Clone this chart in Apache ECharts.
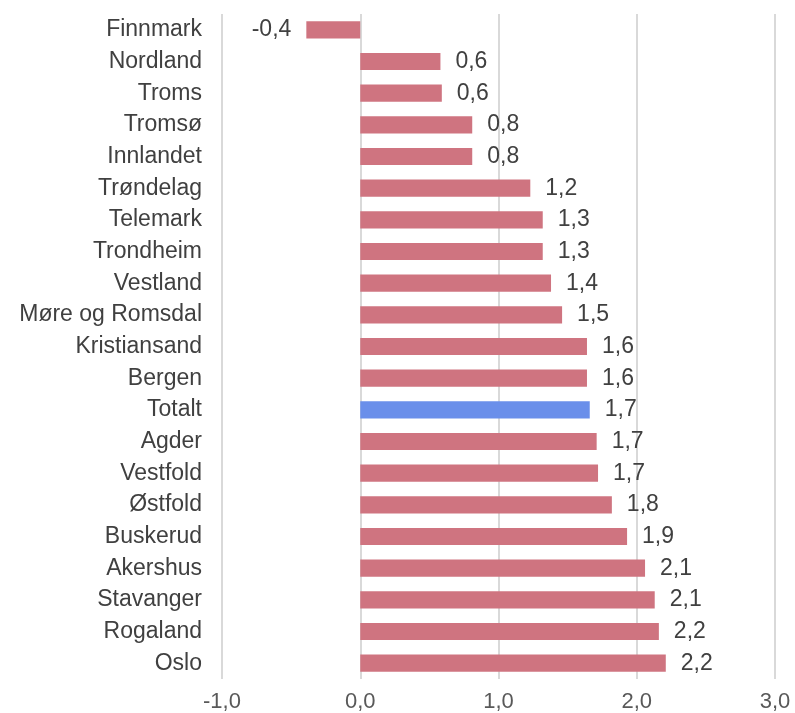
<!DOCTYPE html>
<html>
<head>
<meta charset="utf-8">
<script src="https://cdn.jsdelivr.net/npm/echarts@6/dist/echarts.min.js"></script>
<style>
  html, body { margin: 0; padding: 0; background: #fff; }
  #chart { width: 795px; height: 713px; }
</style>
</head>
<body>
<div id="chart"></div>
<script>
const regions = [
  "Finnmark", "Nordland", "Troms", "Tromsø", "Innlandet", "Trøndelag",
  "Telemark", "Trondheim", "Vestland", "Møre og Romsdal", "Kristiansand",
  "Bergen", "Totalt", "Agder", "Vestfold", "Østfold", "Buskerud",
  "Akershus", "Stavanger", "Rogaland", "Oslo"
];
const values = [
  -0.39, 0.58, 0.59, 0.81, 0.81, 1.23,
  1.32, 1.32, 1.38, 1.46, 1.64,
  1.64, 1.66, 1.71, 1.72, 1.82, 1.93,
  2.06, 2.13, 2.16, 2.21
];
const xTicks = [-1, 0, 1, 2, 3];

const pink = "#cf7480";
const blue = "#6a8fea";
const fmt = (v) => v.toFixed(1).replace(".", ",");
const font = "Liberation Sans, Arial, sans-serif";

const chart = echarts.init(document.getElementById("chart"));

const option = {
  animation: false,
  grid: { left: 222, right: 20, top: 14, bottom: 32, containLabel: false },
  xAxis: {
    type: "value",
    min: xTicks[0],
    max: xTicks[xTicks.length - 1],
    interval: 1,
    axisLine: { show: false },
    axisTick: { show: false },
    splitLine: { lineStyle: { color: "#d9d9d9", width: 2 } },
    axisLabel: {
      color: "#595959",
      fontFamily: font,
      fontSize: 22,
      margin: 12,
      formatter: (v) => fmt(v)
    }
  },
  yAxis: {
    type: "category",
    inverse: true,
    data: regions,
    axisLine: { show: false },
    axisTick: { show: false },
    axisLabel: {
      color: "#404040",
      fontFamily: font,
      fontSize: 23,
      margin: 20
    }
  },
  series: [
    {
      type: "bar",
      barWidth: "54%",
      data: values.map((v, i) => ({
        value: v,
        itemStyle: { color: regions[i] === "Totalt" ? blue : pink },
        label: { position: v < 0 ? "left" : "right" }
      })),
      label: {
        show: true,
        distance: 15,
        color: "#404040",
        fontFamily: font,
        fontSize: 23,
        formatter: (p) => fmt(p.value)
      }
    }
  ]
};

chart.setOption(option);
</script>
</body>
</html>
